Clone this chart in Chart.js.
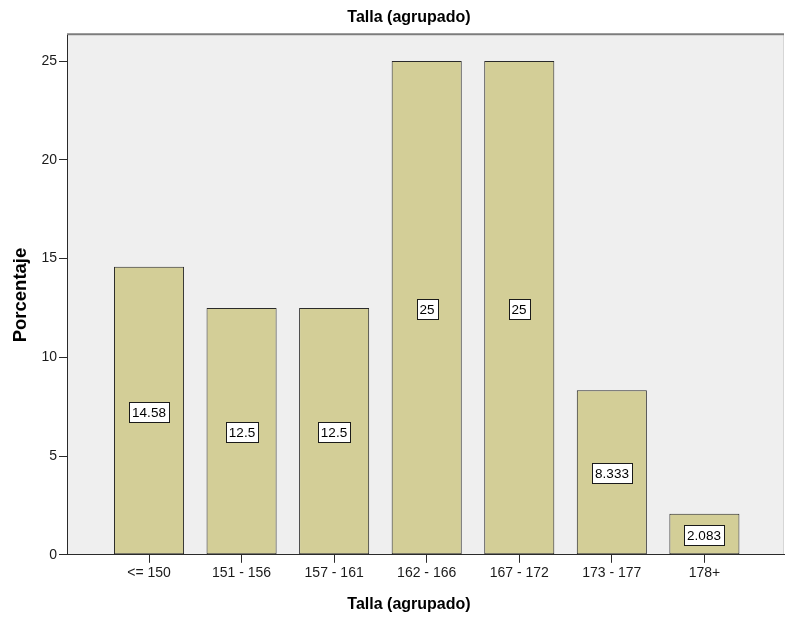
<!DOCTYPE html>
<html>
<head>
<meta charset="utf-8">
<script src="https://cdn.jsdelivr.net/npm/chart.js@4/dist/chart.umd.min.js"></script>
<style>
  html, body { margin: 0; padding: 0; background: #ffffff; overflow: hidden; }
  #wrap { width: 818px; height: 617px; }
</style>
</head>
<body>
<div id="wrap"><canvas id="chart" width="818" height="617"></canvas></div>
<script>
// Height groups (cm) and the share of cases in each group (%)
const categories = ['<= 150', '151 - 156', '157 - 161', '162 - 166', '167 - 172', '173 - 177', '178+'];
const percentages = [14.58, 12.5, 12.5, 25, 25, 8.333, 2.083];
const yTickValues = [0, 5, 10, 15, 20, 25];

const chartTitle = 'Talla (agrupado)';
const xTitle = 'Talla (agrupado)';
const yTitle = 'Porcentaje';

const FONT = '"Liberation Sans", Arial, sans-serif';

// Grey plot panel with its frame
const plotPanel = {
  id: 'plotPanel',
  beforeDraw(chart) {
    const { ctx, chartArea: a } = chart;
    ctx.save();
    ctx.fillStyle = '#efefef';
    ctx.fillRect(a.left, a.top, a.right - a.left, a.bottom - a.top);
    ctx.strokeStyle = '#d6d6d6';
    ctx.lineWidth = 1;
    ctx.beginPath();
    ctx.moveTo(a.right - 0.5, a.top);
    ctx.lineTo(a.right - 0.5, a.bottom);
    ctx.stroke();
    ctx.strokeStyle = '#7c7c7c';
    ctx.lineWidth = 2;
    ctx.beginPath();
    ctx.moveTo(a.left, a.top - 1);
    ctx.lineTo(a.right, a.top - 1);
    ctx.stroke();
    ctx.restore();
  }
};

// Boxed value labels in the middle of each bar
const valueBoxes = {
  id: 'valueBoxes',
  afterDatasetsDraw(chart) {
    const { ctx } = chart;
    const meta = chart.getDatasetMeta(0);
    ctx.save();
    ctx.font = '13.5px ' + FONT;
    ctx.textAlign = 'center';
    ctx.textBaseline = 'middle';
    meta.data.forEach((bar, i) => {
      const p = bar.getProps(['x', 'y', 'base'], true);
      const text = String(percentages[i]);
      const cx = Math.round(p.x);
      const cy = Math.round((p.y + p.base) / 2) + 1;
      const w = Math.round(ctx.measureText(text).width) + 6;
      const h = 20;
      const x0 = Math.round(cx - w / 2) + 0.5;
      const y0 = Math.round(cy - h / 2) + 0.5;
      ctx.fillStyle = '#ffffff';
      ctx.fillRect(x0, y0, w, h);
      ctx.strokeStyle = '#1a1a1a';
      ctx.lineWidth = 1;
      ctx.strokeRect(x0, y0, w, h);
      ctx.fillStyle = '#000000';
      ctx.fillText(text, cx, cy + 1);
    });
    ctx.restore();
  }
};

const points = categories.map((c, i) => ({ x: i, y: percentages[i] }));

new Chart(document.getElementById('chart'), {
  type: 'bar',
  data: {
    datasets: [{
      data: points,
      backgroundColor: '#d3ce97',
      borderColor: '#2a2a2a',
      borderWidth: 1,
      borderSkipped: false,
      categoryPercentage: 1,
      barPercentage: 0.757
    }]
  },
  options: {
    responsive: false,
    animation: false,
    layout: { padding: 0 },
    plugins: {
      legend: { display: false },
      tooltip: { enabled: false },
      title: {
        display: true,
        text: chartTitle,
        color: '#000000',
        font: { family: FONT, size: 16, weight: 'bold', lineHeight: 1.2 },
        padding: { top: 8, bottom: 8 }
      },
      subtitle: {
        display: true,
        position: 'bottom',
        text: xTitle,
        color: '#000000',
        font: { family: FONT, size: 16, weight: 'bold', lineHeight: 1.2 },
        padding: { top: 4, bottom: 3 }
      }
    },
    scales: {
      x: {
        type: 'linear',
        offset: false,
        min: -0.886,
        max: 6.86,
        afterBuildTicks(scale) {
          scale.ticks = categories.map((c, i) => ({ value: i }));
        },
        afterFit(scale) { scale.height = 36; },
        ticks: {
          autoSkip: false,
          maxRotation: 0,
          padding: 2,
          color: '#1a1a1a',
          font: { family: FONT, size: 14 },
          callback: (v) => categories[v] ?? ''
        },
        grid: {
          offset: false,
          drawOnChartArea: false,
          drawTicks: true,
          tickLength: 8,
          tickColor: '#2a2a2a',
          tickWidth: 1
        },
        border: { display: true, color: '#2a2a2a', width: 1 }
      },
      y: {
        min: 0,
        max: 26.31,
        afterBuildTicks(scale) {
          scale.ticks = yTickValues.map(v => ({ value: v }));
        },
        afterFit(scale) { scale.width = 67; },
        ticks: {
          padding: 2,
          color: '#1a1a1a',
          font: { family: FONT, size: 14 }
        },
        grid: {
          drawOnChartArea: false,
          drawTicks: true,
          tickLength: 8,
          tickColor: '#2a2a2a',
          tickWidth: 1
        },
        border: { display: true, color: '#2a2a2a', width: 1 },
        title: {
          display: true,
          text: yTitle,
          color: '#000000',
          font: { family: FONT, size: 18.5, weight: 'bold', lineHeight: 1.2 },
          padding: { top: 10, bottom: 0 }
        }
      },
      // empty margin to the right of the plot panel
      yRight: {
        type: 'linear',
        position: 'right',
        display: true,
        afterFit(scale) { scale.width = 34; },
        ticks: { display: false },
        grid: { display: false },
        border: { display: false }
      }
    }
  },
  plugins: [plotPanel, valueBoxes]
});
</script>
</body>
</html>
